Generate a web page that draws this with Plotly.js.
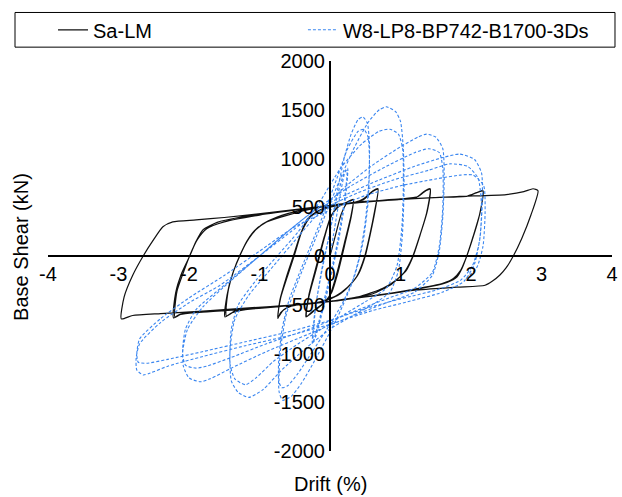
<!DOCTYPE html>
<html>
<head>
<meta charset="utf-8">
<script src="https://cdn.plot.ly/plotly-3.0.1.min.js"></script>
<style>html,body{margin:0;padding:0;background:#fff;}#chart{width:622px;height:497px;}</style>
</head>
<body>
<div id="chart"></div>
<script>
// Series names
const seriesNames = ["Sa-LM", "W8-LP8-BP742-B1700-3Ds"];
// Axis tick values
const xTicks = [-4, -3, -2, -1, 0, 1, 2, 3, 4];
const yTicks = [-2000, -1500, -1000, -500, 0, 500, 1000, 1500, 2000];

// Sa-LM: drift (%) and base shear (kN)
const saDrift = [
 0,0.08,0.16,0.24,0.33,0.3,0.22,0.12,0.02,-0.1,-0.22,-0.33,-0.3,-0.2,-0.1,0,0.1,0.22,0.33,0.3,0.2,0.1,0,-0.12,-0.25,-0.34,-0.3,-0.2,-0.08,0.02,0.15,0.35,
 0.47,0.61,0.68,0.64,0.57,0.5,0.4,0.28,0.12,-0.1,-0.4,-0.6,-0.7,-0.74,-0.71,-0.62,-0.52,-0.42,-0.32,-0.18,0,0.25,0.47,0.61,0.68,0.63,0.56,0.49,0.38,0.25,0.08,-0.2,-0.5,-0.66,-0.74,-0.7,-0.6,-0.5,-0.4,-0.28,-0.1,0.2,0.6,1.0,1.22,
 1.35,1.42,1.38,1.28,1.18,1.08,0.99,0.85,0.6,0.2,-0.3,-0.8,-1.2,-1.4,-1.49,-1.46,-1.38,-1.28,-1.18,-1.09,-0.95,-0.75,-0.4,0,0.5,1.0,1.25,1.36,1.42,1.37,1.27,1.17,1.05,0.95,0.75,0.4,0,-0.5,-1.0,-1.35,-1.47,-1.45,-1.37,-1.27,-1.15,-1.05,-0.9,-0.6,-0.2,0.4,1.0,1.5,1.95,
 2.08,2.17,2.13,2.03,1.94,1.87,1.8,1.66,1.45,1.0,0.5,0,-0.5,-1.0,-1.5,-1.9,-2.12,-2.22,-2.19,-2.1,-1.99,-1.9,-1.8,-1.6,-1.3,-0.8,-0.3,0.3,0.9,1.5,1.95,2.1,2.17,2.12,2.02,1.93,1.85,1.75,1.6,1.2,0.5,-0.3,-1.0,-1.7,-2.12,-2.2,-2.17,-2.07,-1.98,-1.88,-1.75,-1.5,-1.0,-0.4,0.3,1.0,1.8,2.5,
 2.75,2.88,2.95,2.85,2.72,2.6,2.5,2.41,2.3,2.2,1.8,1.2,0.5,0,-0.6,-1.2,-1.8,-2.4,-2.8,-2.96,-2.92,-2.8,-2.65,-2.5,-2.37,-2.23,-1.9,-1.5,-0.8,0
];
const saShear = [
 0,220,430,540,575,400,150,-150,-380,-490,-560,-620,-420,-150,130,380,500,545,580,420,120,-170,-400,-500,-570,-625,-400,-120,200,420,520,550,
 585,670,690,470,220,0,-190,-300,-400,-470,-495,-525,-580,-640,-450,-220,0,220,380,460,510,540,575,665,685,450,200,-10,-210,-320,-410,-480,-505,-555,-630,-430,-200,20,250,400,480,530,560,580,600,
 670,690,460,220,0,-150,-215,-300,-390,-450,-490,-525,-550,-585,-625,-400,-180,0,150,245,330,400,470,520,560,585,610,670,685,440,200,-10,-170,-240,-330,-420,-465,-505,-535,-565,-615,-380,-160,20,180,270,350,420,490,550,580,600,615,
 650,670,450,200,0,-130,-215,-270,-310,-370,-420,-465,-505,-535,-560,-580,-600,-635,-380,-170,0,150,270,345,395,445,490,540,575,600,615,655,665,420,170,-20,-150,-230,-280,-340,-420,-490,-530,-570,-595,-625,-360,-150,20,170,280,350,420,480,540,580,610,630,
 660,690,670,420,180,0,-120,-195,-260,-300,-320,-350,-420,-465,-505,-535,-565,-590,-610,-645,-420,-200,0,170,300,350,370,395,450,520
];

// W8-LP8-BP742-B1700-3Ds: drift (%) and base shear (kN)
const wDrift = [
 0,0.08,0.15,0.22,0.25,0.22,0.12,0,-0.1,-0.2,-0.25,-0.22,-0.12,0,0.1,0.2,0.24,0.2,0.08,-0.05,-0.15,-0.23,-0.24,-0.2,-0.1,
 0,0.1,0.2,0.3,0.4,0.47,0.53,0.56,0.55,0.5,0.42,0.3,0.15,0,-0.2,-0.4,-0.55,-0.67,-0.72,-0.73,-0.68,-0.58,-0.42,-0.25,-0.08,
 0.1,0.25,0.4,0.48,0.54,0.56,0.54,0.47,0.35,0.18,0,-0.25,-0.45,-0.6,-0.68,-0.72,
 -0.7,-0.62,-0.45,-0.25,-0.05,0.15,0.35,0.55,0.7,0.8,0.93,1.0,1.04,1.05,1.03,0.97,0.85,0.6,0.3,0,-0.35,-0.7,-0.95,-1.15,-1.3,-1.4,-1.42,
 -1.4,-1.3,-1.05,-0.75,-0.45,-0.15,0.15,0.45,0.7,0.85,0.97,1.03,1.04,1.02,0.95,0.8,0.5,0.2,-0.1,-0.45,-0.8,-1.05,-1.2,-1.35,-1.42,
 -1.41,-1.35,-1.15,-0.8,-0.45,-0.15,0.2,0.6,1.0,1.25,1.37,1.5,1.6,1.62,1.6,1.55,1.45,1.2,0.8,0.3,-0.3,-0.9,-1.4,-1.7,-1.84,-2.0,-2.08,-2.09,
 -2.05,-1.9,-1.5,-1.0,-0.6,-0.2,0.3,0.8,1.2,1.4,1.55,1.6,1.6,1.55,1.45,1.2,0.8,0.3,-0.3,-0.9,-1.4,-1.75,-1.9,-2.05,-2.09,
 -2.02,-1.8,-1.4,-1.0,-0.6,-0.25,0.2,0.7,1.2,1.6,1.84,2.05,2.15,2.16,2.13,2.05,1.9,1.6,1.1,0.6,0,-0.6,-1.2,-1.8,-2.3,-2.55,-2.65,-2.74,-2.75,
 -2.7,-2.4,-2.0,-1.56,-1.0,-0.5,-0.1,0.4,0.9,1.4,1.7,1.95,2.1,2.15,2.12,2.02,1.85,1.5,1.0,0.5,0,-0.6,-1.2,-1.8,-2.3,-2.6,-2.72,-2.74,
 -2.7,-2.4,-2.0,-1.5,-1.0,-0.5,0,0.5,1.0,1.5,1.85,2.03,2.18,2.2,2.17,2.08,1.9
];
const wShear = [
 0,350,650,880,900,600,150,-250,-550,-820,-900,-600,-150,250,600,850,880,550,50,-350,-650,-860,-870,-500,-100,
 250,650,1000,1250,1400,1425,1360,1150,750,350,0,-300,-560,-780,-1050,-1300,-1440,-1480,-1400,-1100,-750,-450,-150,150,450,
 800,1100,1280,1300,1220,950,550,150,-200,-480,-700,-980,-1200,-1330,-1350,-1300,
 -950,-600,-250,100,450,800,1120,1380,1500,1530,1480,1380,1100,700,250,-150,-370,-500,-620,-750,-950,-1180,-1370,-1450,-1400,-1280,-1000,
 -750,-500,-250,0,250,550,900,1150,1280,1300,1250,1100,700,300,-100,-330,-470,-600,-740,-900,-1080,-1250,-1320,-1260,-1100,
 -900,-650,-400,-100,200,450,700,930,1120,1220,1250,1220,1100,800,400,50,-200,-370,-480,-620,-800,-980,-1150,-1260,-1290,-1250,-1130,-950,
 -750,-550,-300,0,250,480,720,920,1060,1100,1060,900,500,100,-170,-330,-440,-580,-750,-900,-1040,-1130,-1150,-1120,-1000,
 -750,-520,-250,0,250,450,620,780,920,1010,1045,990,850,550,200,-80,-260,-370,-470,-560,-700,-820,-920,-1030,-1130,-1200,-1220,-1170,-1050,
 -900,-680,-480,-300,0,280,480,650,780,880,945,920,800,500,150,-100,-250,-350,-440,-540,-660,-780,-880,-980,-1060,-1100,-1090,-1000,
 -850,-640,-430,-200,50,300,470,620,720,790,830,830,720,450,100,-120,-250
];

const FONT = "Liberation Sans, Arial, sans-serif";

const traces = [
  {
    x: saDrift, y: saShear, name: seriesNames[0], type: "scatter", mode: "lines",
    legend: "legend",
    line: {color: "#111111", width: 1.2, shape: "spline", smoothing: 0.6}
  },
  {
    x: wDrift, y: wShear, name: seriesNames[1], type: "scatter", mode: "lines",
    legend: "legend2",
    line: {color: "#3a86f0", width: 1.1, dash: "3px,2px", shape: "spline", smoothing: 0.6}
  }
];

const legendCommon = {
  orientation: "h", xanchor: "left", y: 1.08, yanchor: "middle",
  borderwidth: 0, bgcolor: "rgba(0,0,0,0)",
  font: {family: FONT, size: 20, color: "#000"}
};

const layout = {
  width: 622, height: 497,
  margin: {l: 48, r: 10, t: 57, b: 46},
  paper_bgcolor: "#ffffff", plot_bgcolor: "#ffffff",
  font: {family: FONT, size: 20, color: "#000"},
  showlegend: true,
  legend: Object.assign({}, legendCommon, {x: 0.0089}),
  legend2: Object.assign({}, legendCommon, {x: 0.452}),
  shapes: [
    {type: "rect", xref: "paper", yref: "paper", x0: -0.0585, x1: 1.0053, y0: 1.0355, y1: 1.1244,
     line: {color: "#000", width: 1}, fillcolor: "rgba(0,0,0,0)", layer: "below"}
  ],
  xaxis: {
    range: [-4, 4], anchor: "free", position: 0.5,
    tickvals: xTicks, ticktext: xTicks.map(String),
    showline: true, linecolor: "#000", linewidth: 2,
    showgrid: false, zeroline: false, ticks: "",
    tickfont: {family: FONT, size: 20, color: "#000"}
  },
  yaxis: {
    range: [-2000, 2000], anchor: "free", position: 0.5,
    tickvals: yTicks, ticktext: yTicks.map(String),
    showline: true, linecolor: "#000", linewidth: 2,
    showgrid: false, zeroline: false, ticks: "",
    tickfont: {family: FONT, size: 20, color: "#000"}
  },
  annotations: [
    {text: "Drift (%)", xref: "paper", yref: "paper", x: 0.501, y: -0.084,
     xanchor: "center", yanchor: "middle", showarrow: false,
     font: {family: FONT, size: 20, color: "#000"}},
    {text: "Base Shear (kN)", xref: "paper", yref: "paper", x: -0.048, y: 0.523,
     xanchor: "center", yanchor: "middle", showarrow: false, textangle: -90,
     font: {family: FONT, size: 20, color: "#000"}}
  ]
};

Plotly.newPlot("chart", traces, layout, {displayModeBar: false, staticPlot: true});
</script>
</body>
</html>
